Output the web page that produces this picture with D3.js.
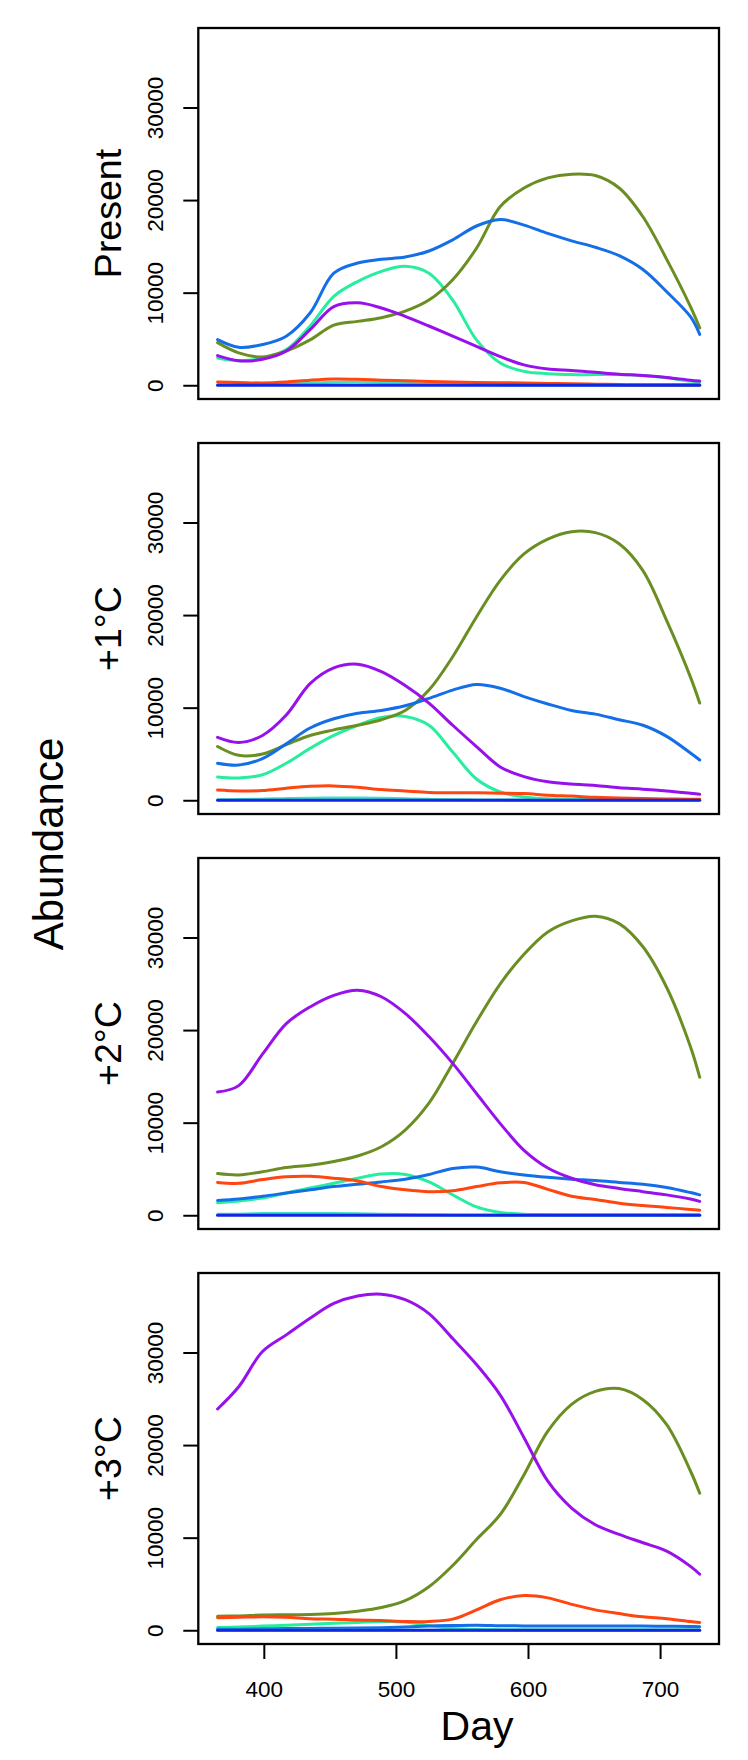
<!DOCTYPE html>
<html>
<head>
<meta charset="utf-8">
<script src="https://cdn.jsdelivr.net/npm/d3@7"></script>
<style>
  html, body { margin: 0; padding: 0; background: #fff; }
  svg { display: block; }
  text { font-family: "Liberation Sans", Arial, sans-serif; fill: #000; }
</style>
</head>
<body>
<svg id="chart" width="748" height="1760"></svg>
<script>
// ---------------- DATA ----------------
const days = [365, 381, 399, 417, 435, 453, 471, 489, 507, 525, 543, 561, 579, 597, 615, 633, 651, 669, 687, 705, 723, 730];
const panelLabels = ["Present", "+1°C", "+2°C", "+3°C"];
const yTickValues = [0, 10000, 20000, 30000];
const yTickLabels = ["0", "10000", "20000", "30000"];
const xTickValues = [400, 500, 600, 700];
const xTickLabels = ["400", "500", "600", "700"];
const seriesNames = ["spring", "olive", "dodger", "purple", "minor", "orange", "navy"];
const seriesColors = ["#26EE9E", "#6B8E23", "#136EE8", "#9810EC", "#3FE2C0", "#FF4510", "#0F26E2"];

// Present
const present_olive  = [4600, 3500, 3050, 3700, 4900, 6500, 6900, 7300, 8000, 9200, 11400, 14800, 19300, 21300, 22400, 22800, 22650, 21300, 18200, 13600, 8500, 6200];
const present_dodger = [4930, 4100, 4400, 5300, 7800, 12100, 13200, 13600, 13850, 14500, 15700, 17200, 17900, 17300, 16400, 15600, 14900, 14000, 12500, 10100, 7400, 5500];
const present_spring = [2950, 2650, 2900, 3850, 6400, 9600, 11200, 12300, 12850, 12100, 9200, 4900, 2400, 1500, 1250, 1150, 1150, 1150, 1050, 800, 450, 350];
const present_purple = [3200, 2650, 2800, 3700, 6000, 8500, 8900, 8350, 7450, 6400, 5300, 4200, 3100, 2200, 1750, 1600, 1400, 1200, 1050, 850, 550, 450];
const present_orange = [350, 300, 250, 350, 550, 680, 650, 550, 480, 400, 350, 300, 280, 250, 200, 150, 120, 70, 50, 50, 50, 50];
const present_minor  = [50, 50, 80, 150, 250, 330, 350, 300, 200, 120, 80, 50, 40, 30, 30, 20, 20, 20, 20, 20, 20, 20];
const present_navy   = [0, 0, 0, 0, 0, 0, 0, 0, 0, 0, 0, 0, 0, 0, 0, 0, 0, 0, 0, 0, 0, 0];

// +1°C
const plus1_olive  = [5800, 4850, 5000, 6000, 7000, 7600, 8100, 8700, 9700, 11900, 15500, 19800, 23750, 26600, 28200, 29000, 28900, 27700, 24800, 19400, 13300, 10500];
const plus1_dodger = [4000, 3800, 4500, 6100, 7800, 8800, 9400, 9700, 10200, 11000, 11900, 12500, 12100, 11200, 10400, 9700, 9300, 8700, 8100, 6900, 5100, 4350];
const plus1_spring = [2500, 2400, 2750, 4000, 5600, 7000, 8100, 8950, 9050, 8100, 5200, 2300, 900, 350, 150, 100, 80, 60, 50, 50, 50, 50];
const plus1_purple = [6800, 6250, 7000, 9200, 12600, 14300, 14700, 13900, 12400, 10500, 8100, 5800, 3600, 2550, 2000, 1750, 1600, 1350, 1200, 1000, 750, 650];
const plus1_orange = [1100, 1000, 1050, 1300, 1500, 1550, 1400, 1150, 1000, 850, 820, 800, 770, 720, 550, 450, 320, 250, 180, 140, 100, 100];
const plus1_minor  = [50, 80, 120, 180, 220, 250, 250, 220, 150, 100, 60, 40, 30, 30, 20, 20, 20, 20, 20, 20, 20, 20];
const plus1_navy   = [0, 0, 0, 0, 0, 0, 0, 0, 0, 0, 0, 0, 0, 0, 0, 0, 0, 0, 0, 0, 0, 0];

// +2°C
const plus2_olive  = [4500, 4350, 4700, 5150, 5400, 5800, 6400, 7400, 9200, 12100, 16400, 20900, 25000, 28200, 30600, 31800, 32300, 31500, 29000, 24600, 18200, 14900];
const plus2_dodger = [1600, 1750, 2050, 2400, 2750, 3100, 3350, 3600, 3900, 4400, 5050, 5200, 4700, 4350, 4100, 3900, 3750, 3550, 3350, 3000, 2450, 2200];
const plus2_spring = [1350, 1550, 1850, 2400, 2950, 3450, 4000, 4450, 4400, 3600, 2200, 900, 300, 120, 70, 50, 50, 50, 50, 50, 50, 50];
const plus2_purple = [13300, 14000, 17400, 20700, 22500, 23750, 24300, 23600, 21800, 19300, 16400, 13150, 9900, 7000, 5100, 4000, 3300, 2900, 2550, 2200, 1750, 1500];
const plus2_orange = [3550, 3450, 3850, 4150, 4200, 4000, 3700, 3100, 2750, 2550, 2650, 3100, 3500, 3550, 2800, 2050, 1700, 1300, 1050, 850, 620, 550];
const plus2_minor  = [100, 120, 180, 200, 200, 180, 150, 120, 80, 50, 40, 30, 20, 20, 20, 20, 20, 20, 20, 20, 20, 20];
const plus2_navy   = [0, 0, 0, 0, 0, 0, 0, 0, 0, 0, 0, 0, 0, 0, 0, 0, 0, 0, 0, 0, 0, 0];

// +3°C
const plus3_olive  = [1500, 1550, 1650, 1680, 1700, 1800, 2050, 2450, 3200, 4700, 7000, 9800, 12500, 16800, 21500, 24400, 25800, 26100, 24900, 22200, 17200, 14800];
const plus3_dodger = [100, 120, 150, 180, 200, 220, 250, 280, 350, 450, 520, 550, 500, 470, 450, 450, 450, 450, 450, 430, 400, 380];
const plus3_spring = [300, 350, 450, 550, 650, 750, 850, 950, 900, 500, 200, 80, 40, 30, 20, 20, 20, 20, 20, 20, 20, 20];
const plus3_purple = [23900, 26300, 30100, 31900, 33700, 35300, 36100, 36300, 35700, 34200, 31500, 28700, 25400, 20800, 16100, 13200, 11400, 10350, 9450, 8550, 6900, 6050];
const plus3_orange = [1350, 1400, 1450, 1400, 1250, 1200, 1100, 1050, 950, 950, 1200, 2200, 3300, 3750, 3500, 2800, 2200, 1800, 1450, 1250, 950, 850];
const plus3_minor  = [0, 0, 0, 0, 0, 0, 0, 0, 0, 0, 0, 0, 0, 0, 0, 0, 0, 0, 0, 0, 0, 0];
const plus3_navy   = [0, 0, 0, 0, 0, 0, 0, 0, 0, 0, 0, 0, 0, 0, 0, 0, 0, 0, 0, 0, 0, 0];

const panels = [
  { spring: present_spring, olive: present_olive, dodger: present_dodger, purple: present_purple, minor: present_minor, orange: present_orange, navy: present_navy },
  { spring: plus1_spring, olive: plus1_olive, dodger: plus1_dodger, purple: plus1_purple, minor: plus1_minor, orange: plus1_orange, navy: plus1_navy },
  { spring: plus2_spring, olive: plus2_olive, dodger: plus2_dodger, purple: plus2_purple, minor: plus2_minor, orange: plus2_orange, navy: plus2_navy },
  { spring: plus3_spring, olive: plus3_olive, dodger: plus3_dodger, purple: plus3_purple, minor: plus3_minor, orange: plus3_orange, navy: plus3_navy }
];

// ---------------- LAYOUT ----------------
const svg = d3.select("#chart");
const left = 198.3, right = 719;
const panelTop0 = 28, panelStep = 415, panelH = 371;
const xMin = 365, xMax = 730, yMin = 0, yMax = 37100;
const xPad = (xMax - xMin) * 0.04, yPad = (yMax - yMin) * 0.04;

const x = d3.scaleLinear().domain([xMin - xPad, xMax + xPad]).range([left, right]);

panels.forEach((p, i) => {
  const top = panelTop0 + i * panelStep;
  const bottom = top + panelH;
  const y = d3.scaleLinear().domain([yMin - yPad, yMax + yPad]).range([bottom, top]);
  const g = svg.append("g");

  const line = d3.line()
    .x((d, k) => x(days[k]))
    .y(d => y(d))
    .curve(d3.curveCatmullRom.alpha(0.5));

  seriesNames.forEach((name, si) => {
    g.append("path")
      .attr("d", line(p[name]))
      .attr("fill", "none")
      .attr("stroke", seriesColors[si])
      .attr("stroke-width", 3)
      .attr("stroke-linejoin", "round")
      .attr("stroke-linecap", "round");
  });

  // box
  g.append("rect")
    .attr("x", left).attr("y", top)
    .attr("width", right - left).attr("height", panelH)
    .attr("fill", "none").attr("stroke", "#000").attr("stroke-width", 2.3);

  // y axis
  const yAxis = d3.axisLeft(y)
    .tickValues(yTickValues)
    .tickFormat((d, k) => yTickLabels[k])
    .tickSizeInner(15).tickSizeOuter(0);
  const ya = g.append("g").attr("transform", `translate(${left},0)`).call(yAxis);
  ya.select(".domain").remove();
  ya.selectAll(".tick line").attr("stroke", "#000").attr("stroke-width", 2);
  ya.selectAll(".tick text")
    .attr("transform", "rotate(-90)")
    .attr("x", 0).attr("y", -35.5).attr("dy", null)
    .attr("text-anchor", "middle")
    .style("font-family", "'Liberation Sans', Arial, sans-serif")
    .style("font-size", "22.5px").attr("fill", "#000");

  // panel label
  g.append("text")
    .attr("transform", `translate(121,${(top + bottom) / 2}) rotate(-90)`)
    .attr("text-anchor", "middle")
    .style("font-size", "37.5px")
    .text(panelLabels[i]);

  if (i === panels.length - 1) {
    const xAxis = d3.axisBottom(x)
      .tickValues(xTickValues)
      .tickFormat((d, k) => xTickLabels[k])
      .tickSizeInner(15).tickSizeOuter(0);
    const xa = g.append("g").attr("transform", `translate(0,${bottom})`).call(xAxis);
    xa.select(".domain").remove();
    xa.selectAll(".tick line").attr("stroke", "#000").attr("stroke-width", 2);
    xa.selectAll(".tick text")
      .attr("y", 53).attr("dy", null)
      .style("font-family", "'Liberation Sans', Arial, sans-serif")
      .style("font-size", "22.5px").attr("fill", "#000");
  }
});

// axis titles
svg.append("text")
  .attr("x", 477).attr("y", 1740)
  .attr("text-anchor", "middle")
  .style("font-size", "41px")
  .text("Day");

svg.append("text")
  .attr("transform", "translate(63,844) rotate(-90)")
  .attr("text-anchor", "middle")
  .style("font-size", "42px")
  .text("Abundance");
</script>
</body>
</html>
